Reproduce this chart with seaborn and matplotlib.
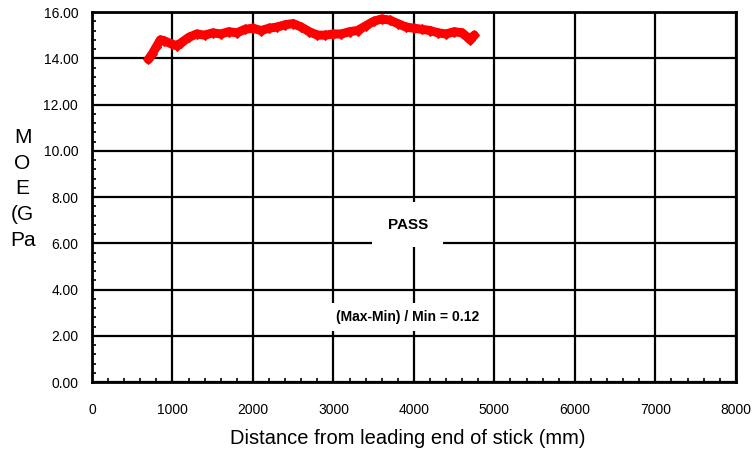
import matplotlib
matplotlib.use("Agg")
import matplotlib.pyplot as plt
import seaborn as sns
import pandas as pd
from matplotlib.ticker import MultipleLocator

sns.set_theme(style="white")
plt.rcParams['font.family'] = ['Liberation Sans', 'DejaVu Sans']
plt.rcParams['text.color'] = 'black'
plt.rcParams['xtick.color'] = 'black'
plt.rcParams['ytick.color'] = 'black'
plt.rcParams['axes.labelcolor'] = 'black'

distance_mm = [700, 750, 800, 850, 900, 1000, 1050, 1100, 1200, 1300, 1400, 1500,
               1600, 1700, 1800, 1900, 2000, 2100, 2200, 2300, 2400, 2500, 2600,
               2700, 2800, 2900, 3000, 3100, 3200, 3300, 3400, 3500, 3600, 3700,
               3800, 3900, 4000, 4100, 4200, 4300, 4400, 4500, 4600, 4700, 4750]
moe_gpa = [13.95, 14.2, 14.5, 14.8, 14.75, 14.6, 14.55, 14.65, 14.9, 15.05, 15.0, 15.1,
           15.05, 15.15, 15.1, 15.25, 15.3, 15.2, 15.3, 15.35, 15.45, 15.5, 15.35,
           15.15, 15.0, 15.0, 15.05, 15.05, 15.15, 15.2, 15.4, 15.6, 15.7, 15.65,
           15.5, 15.35, 15.3, 15.25, 15.2, 15.1, 15.05, 15.15, 15.1, 14.8, 15.0]
x_ticks = [0, 1000, 2000, 3000, 4000, 5000, 6000, 7000, 8000]
y_ticks = [0, 2, 4, 6, 8, 10, 12, 14, 16]
status_text = "PASS"
ratio_text = "(Max-Min) / Min = 0.12"

df = pd.DataFrame({"x": distance_mm, "y": moe_gpa})

fig = plt.figure(figsize=(7.53, 4.53), dpi=100)
ax = fig.add_axes([0.1222, 0.1567, 0.855, 0.8168])

sns.lineplot(data=df, x="x", y="y", ax=ax, color="#ff0000", linewidth=6.5,
             marker="D", markersize=5, markeredgecolor="#ff0000")

ax.set_xlim(0, 8000)
ax.set_ylim(0, 16)
ax.set_xticks(x_ticks)
ax.set_xticklabels([str(v) for v in x_ticks], fontsize=10)
ax.set_yticks(y_ticks)
ax.set_yticklabels([f"{v:.2f}" for v in y_ticks], fontsize=10)
ax.xaxis.set_minor_locator(MultipleLocator(200))
ax.yaxis.set_minor_locator(MultipleLocator(0.4))
ax.tick_params(which="major", direction="in", length=0, pad=15)
ax.tick_params(axis="y", which="major", pad=10)
ax.tick_params(which="minor", direction="in", length=3, width=1.2, color="black",
               bottom=True, left=True)
ax.grid(True, which="major", color="black", linewidth=1.6)
for s in ax.spines.values():
    s.set_color("black")
    s.set_linewidth(2)

ax.set_xlabel("Distance from leading end of stick (mm)", fontsize=14.5, labelpad=6)
ax.xaxis.set_label_coords(0.49, -0.128)
ax.set_ylabel("")
fig.text(0.03, 0.583, "M\nO\nE\n(G\nPa", fontsize=15, ha="center", va="center",
         linespacing=1.45)

ax.text(3925, 6.8, status_text, fontsize=11, fontweight="bold", ha="center", va="center",
        bbox=dict(facecolor="white", edgecolor="none", boxstyle="square,pad=1.0"), zorder=5)
ax.text(3925, 2.82, ratio_text, fontsize=10, fontweight="bold", ha="center", va="center",
        bbox=dict(facecolor="white", edgecolor="none", boxstyle="square,pad=0.5"), zorder=5)

fig.savefig("out.png", dpi=100)
